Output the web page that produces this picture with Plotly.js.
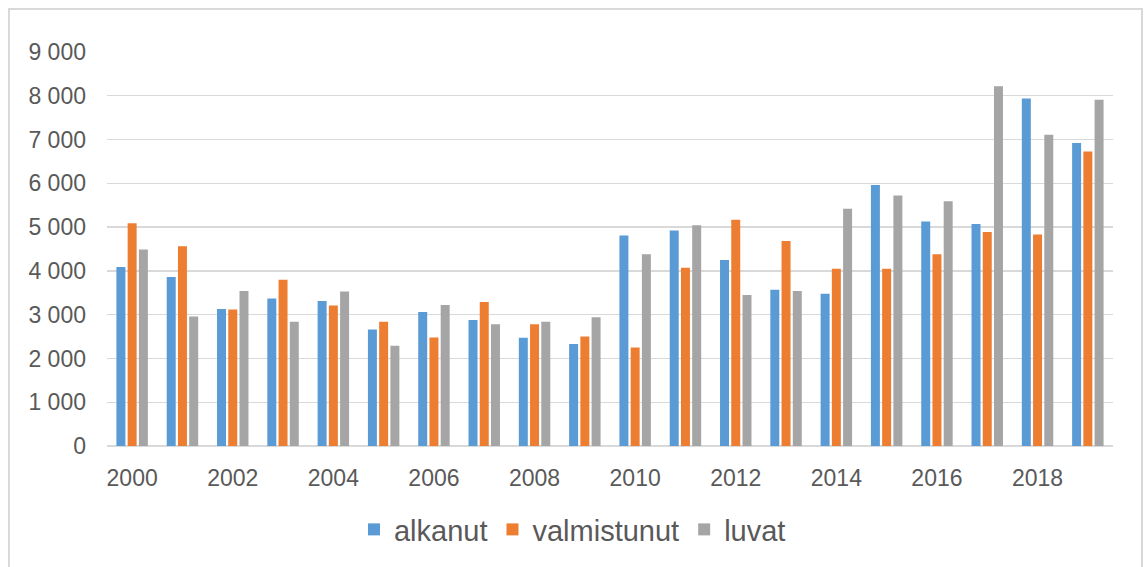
<!DOCTYPE html>
<html>
<head>
<meta charset="utf-8">
<script src="https://cdn.plot.ly/plotly-3.0.1.min.js"></script>
<style>
  html, body { margin: 0; padding: 0; background: #ffffff; }
  #wrap { position: relative; width: 1147px; height: 567px; overflow: hidden; }
  #chart { position: absolute; left: 0; top: 0; width: 1147px; height: 567px; }
  #frame { position: absolute; left: 8px; top: 8px; width: 1135px; height: 620px;
           border: 2px solid #d9d9d9; box-sizing: border-box; pointer-events: none; }
</style>
</head>
<body>
<div id="wrap">
  <div id="chart"></div>
  <div id="frame"></div>
</div>
<script>
const years = [2000, 2001, 2002, 2003, 2004, 2005, 2006, 2007, 2008, 2009,
               2010, 2011, 2012, 2013, 2014, 2015, 2016, 2017, 2018, 2019];
const alkanut = [4090, 3860, 3130, 3370, 3310, 2660, 3060, 2880, 2470, 2330,
                 4810, 4920, 4250, 3570, 3480, 5960, 5130, 5070, 7940, 6920];
const valmistunut = [5090, 4560, 3120, 3800, 3210, 2840, 2480, 3290, 2780, 2500,
                     2250, 4070, 5170, 4680, 4050, 4050, 4380, 4890, 4830, 6730];
const luvat = [4490, 2960, 3540, 2840, 3530, 2290, 3220, 2780, 2840, 2940,
               4380, 5040, 3450, 3540, 5420, 5720, 5590, 8220, 7110, 7910];

const seriesNames = ['alkanut', 'valmistunut', 'luvat'];
const seriesColors = ['#5b9bd5', '#ed7d31', '#a5a5a5'];
const seriesValues = [alkanut, valmistunut, luvat];

const data = seriesNames.map((name, i) => ({
  type: 'bar',
  name: name,
  x: years,
  y: seriesValues[i],
  marker: { color: seriesColors[i], line: { width: 0 } },
  hoverinfo: 'skip'
}));

const textColor = '#595959';
const layout = {
  width: 1147,
  height: 567,
  margin: { l: 107, r: 34, t: 52, b: 119, pad: 0 },
  paper_bgcolor: 'rgba(0,0,0,0)',
  plot_bgcolor: '#ffffff',
  font: { family: 'Liberation Sans, Arial, sans-serif', color: textColor, size: 23 },
  separators: ', ',
  barmode: 'group',
  bargap: 0.33,
  bargroupgap: 0.2,
  showlegend: true,
  legend: {
    orientation: 'h',
    x: 0.2455, xanchor: 'left',
    y: -0.212, yanchor: 'middle',
    font: { size: 29, color: textColor },
    bgcolor: 'rgba(0,0,0,0)',
    itemclick: false, itemdoubleclick: false
  },
  xaxis: {
    type: 'linear',
    range: [1999.5, 2019.5],
    tick0: 2000,
    dtick: 2,
    tickformat: 'd',
    showgrid: false,
    zeroline: false,
    showline: false,
    ticks: '',
    ticklabelstandoff: 16,
    tickfont: { size: 23, color: textColor },
    fixedrange: true
  },
  yaxis: {
    range: [0, 9000],
    dtick: 1000,
    tick0: 0,
    tickformat: ',d',
    showgrid: true,
    gridcolor: '#d9d9d9',
    gridwidth: 1.3,
    zeroline: true,
    zerolinecolor: '#d9d9d9',
    zerolinewidth: 1.3,
    showline: false,
    ticks: '',
    ticklabelstandoff: 20,
    tickfont: { size: 23, color: textColor },
    fixedrange: true
  }
};

Plotly.newPlot('chart', data, layout, { displayModeBar: false, staticPlot: true });
</script>
</body>
</html>
